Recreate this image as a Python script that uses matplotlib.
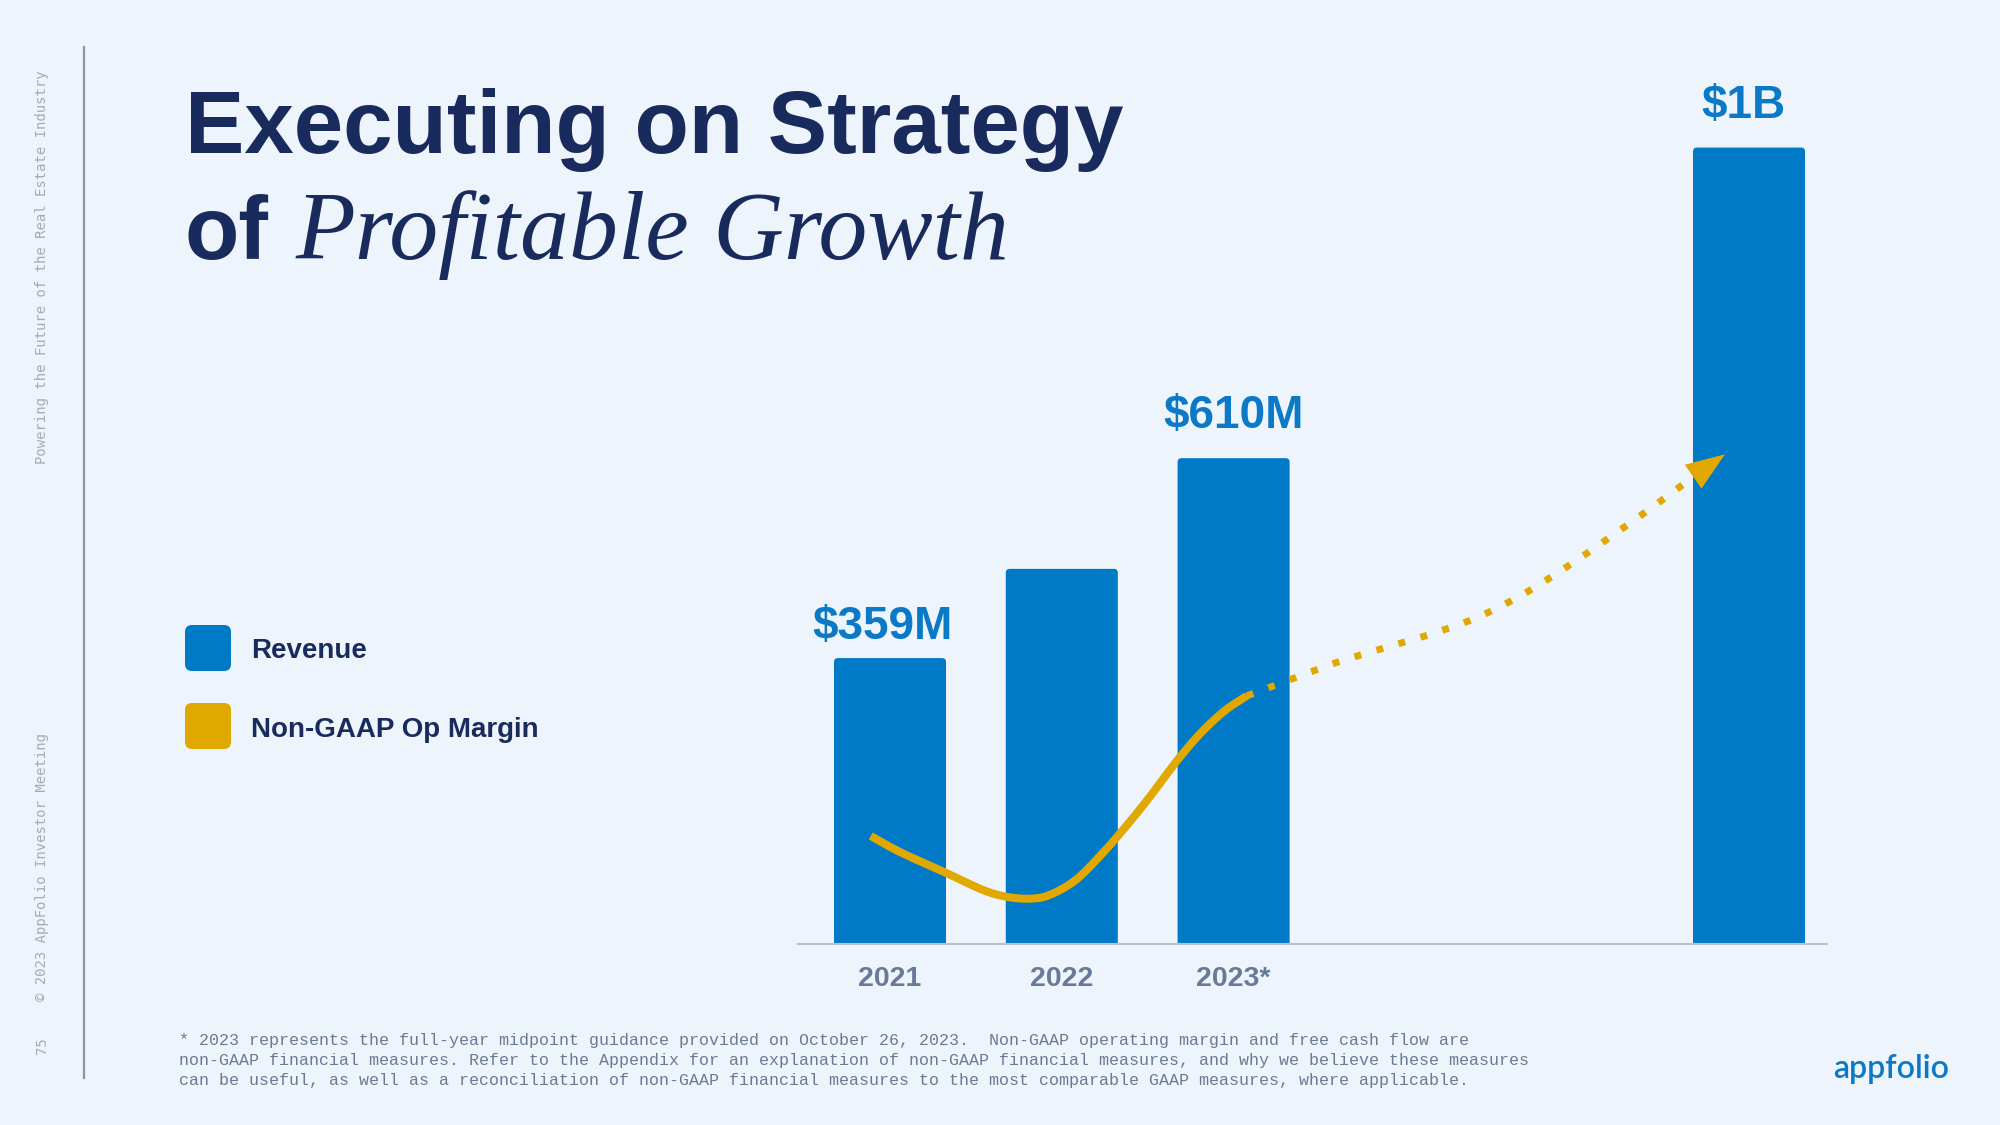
import matplotlib
matplotlib.use("Agg")
import numpy as np
import matplotlib.pyplot as plt
from matplotlib.patches import FancyBboxPatch

# ---------------- data ----------------
categories = ["2021", "2022", "2023*", ""]
positions = [0, 1, 2, 5]
revenue_musd = [359, 471, 610, 1000]
value_labels = ["$359M", "", "$610M", "$1B"]

# Non-GAAP op margin trend (schematic, relative scale 0-100), actual part
margin_x = [-0.112, 0.058, 0.329, 0.541, 0.677, 0.812, 0.928, 1.082,
            1.237, 1.372, 1.507, 1.674, 1.816, 1.952, 2.077]
margin_y = [12.8, 10.9, 8.4, 6.4, 5.6, 5.37, 5.8, 7.6,
            10.75, 13.9, 17.3, 21.8, 25.15, 27.7, 29.4]
# outlook part (dotted, ends in arrow)
outlook_x = [2.077, 2.323, 2.595, 2.871, 3.150, 3.420, 3.681,
             3.929, 4.168, 4.406, 4.638, 4.672, 4.860]
outlook_y = [29.4, 31.28, 33.33, 35.04, 36.73, 38.71, 41.39,
             44.55, 47.87, 51.3, 54.77, 55.33, 58.02]

legend_labels = ["Revenue", "Non-GAAP Op Margin"]
title_line1 = "Executing on Strategy"
title_of = "of"
title_italic = "Profitable Growth"
side_top = "Powering the Future of the Real Estate Industry"
side_bottom = "\u00a9 2023 AppFolio Investor Meeting"
page_no = "75"
footnote = [
    "* 2023 represents the full-year midpoint guidance provided on October 26, 2023.  Non-GAAP operating margin and free cash flow are",
    "non-GAAP financial measures. Refer to the Appendix for an explanation of non-GAAP financial measures, and why we believe these measures",
    "can be useful, as well as a reconciliation of non-GAAP financial measures to the most comparable GAAP measures, where applicable.",
]
logo = "appfolio"

# ---------------- style ----------------
BG = "#EEF4FB"
NAVY = "#182B5C"
BLUE = "#0079C6"
LABEL_BLUE = "#0B79C6"
GOLD = "#E0A800"
TICK = "#687A99"
GREY = "#A4ABB8"
FOOT = "#6B7A94"

W, H = 2000, 1125
fig = plt.figure(figsize=(20, 11.25), dpi=100, facecolor=BG)


def fx(px):
    return px / W


def fy(py_top):
    return 1 - py_top / H


def smooth_path(xs, ys, n=16):
    """Catmull-Rom rendering of a polyline through the given points."""
    p = np.column_stack([xs, ys]).astype(float)
    p = np.vstack([2 * p[0] - p[1], p, 2 * p[-1] - p[-2]])
    out = []
    t = np.linspace(0, 1, n, endpoint=False)[:, None]
    for i in range(1, len(p) - 2):
        p0, p1, p2, p3 = p[i - 1], p[i], p[i + 1], p[i + 2]
        seg = 0.5 * ((2 * p1) + (-p0 + p2) * t + (2 * p0 - 5 * p1 + 4 * p2 - p3) * t ** 2
                     + (-p0 + 3 * p1 - 3 * p2 + p3) * t ** 3)
        out.append(seg)
    out.append(p[-2][None, :])
    out = np.vstack(out)
    return out[:, 0], out[:, 1]


# chart axes (pixel-calibrated)
ax_left, ax_right, base_y, top_y = 798, 1827, 944, 100
XMIN, XMAX = -0.5355, 5.454
YMAX = 1059.7
ax = fig.add_axes([fx(ax_left), fy(base_y), fx(ax_right - ax_left), (base_y - top_y) / H])
ax.set_facecolor("none")
ax.set_xlim(XMIN, XMAX)
ax.set_ylim(0, YMAX)
for s in ["top", "right", "left"]:
    ax.spines[s].set_visible(False)
ax.spines["bottom"].set_color("#B9C2CE")
ax.spines["bottom"].set_linewidth(1.5)
ax.set_yticks([])
ax.set_xticks(positions[:3])
ax.set_xticklabels(categories[:3], fontsize=20.5, fontweight="bold",
                   family="Liberation Sans", color=TICK)
ax.tick_params(axis="x", length=0, pad=16)

bar_w = 0.652
bars = ax.bar(positions, revenue_musd, width=bar_w, color=BLUE, zorder=2)
# rounded top corners
xpx_per_unit = (ax_right - ax_left) / (XMAX - XMIN)
ypx_per_unit = (base_y - top_y) / YMAX
r_px = 4.0
rs = r_px / xpx_per_unit
ma = (r_px / ypx_per_unit) / rs
for rect in bars:
    rect.set_visible(False)
    x0, w, h = rect.get_x(), rect.get_width(), rect.get_height()
    p = FancyBboxPatch((x0, -20), w, h + 20,
                       boxstyle=f"round,pad=0,rounding_size={rs}",
                       mutation_aspect=ma, fc=BLUE, ec="none", zorder=2)
    ax.add_patch(p)

label_off_pt = [(-5, 14), (0, 0), (0, 22), (-4, 21)]
for pos, val, lab, off in zip(positions, revenue_musd, value_labels, label_off_pt):
    if lab:
        ax.annotate(lab, xy=(pos, val), xytext=off, textcoords="offset points",
                    ha="center", va="baseline", fontsize=33, fontweight="bold",
                    family="Liberation Sans", color=LABEL_BLUE)

# margin trend on a secondary scale
ax2 = ax.twinx()
ax2.set_ylim(0, 100)
ax2.set_axis_off()
sx, sy = smooth_path(margin_x, margin_y)
ax2.plot(sx, sy, color=GOLD, lw=5.8, solid_capstyle="butt",
         solid_joinstyle="round", zorder=3)
ox, oy = smooth_path(outlook_x[:-1], outlook_y[:-1])
ax2.plot(ox, oy, color=GOLD, lw=5.0,
         linestyle=(0, (1, 2.3)), dash_capstyle="butt", zorder=3)
ax2.annotate("", xy=(outlook_x[-1], outlook_y[-1]), xytext=(outlook_x[-2], outlook_y[-2]),
             arrowprops=dict(arrowstyle="-|>,head_length=28,head_width=10.5",
                             mutation_scale=1, color=GOLD, lw=0,
                             shrinkA=0, shrinkB=0))

# ---------------- title ----------------
fig.text(fx(185), fy(153), title_line1, fontsize=64, fontweight="bold",
         family="Liberation Sans", color=NAVY, va="baseline", ha="left")
fig.text(fx(185), fy(259), title_of, fontsize=64, fontweight="bold",
         family="Liberation Sans", color=NAVY, va="baseline", ha="left")
fig.text(fx(296), fy(259), title_italic, fontsize=70.5, style="italic",
         family="Liberation Serif", color=NAVY, va="baseline", ha="left")

# ---------------- legend ----------------
legend_colors = [BLUE, GOLD]
sq_tops = [625, 703]
text_base = [658, 737]
for lab, col, t, tb in zip(legend_labels, legend_colors, sq_tops, text_base):
    sz = 46 / 100.0
    x0 = 185 / 100.0
    y0 = (H - t) / 100.0 - sz
    fig.patches.append(FancyBboxPatch((x0, y0), sz, sz,
                                      boxstyle="round,pad=0,rounding_size=0.07",
                                      fc=col, ec="none",
                                      transform=fig.dpi_scale_trans, figure=fig))
    fig.text(fx(251), fy(tb), lab, fontsize=20, fontweight="bold",
             family="Liberation Sans", color=NAVY, va="baseline", ha="left")

# ---------------- side bar ----------------
fig.add_artist(plt.Line2D([fx(84), fx(84)], [fy(47), fy(1078)],
                          color="#8E949E", lw=1.6, transform=fig.transFigure))
fig.text(fx(42), fy(70), side_top, rotation=90, fontsize=10,
         family="DejaVu Sans Mono", color=GREY, ha="center", va="top")
fig.text(fx(42), fy(1001), side_bottom, rotation=90, fontsize=10,
         family="DejaVu Sans Mono", color=GREY, ha="center", va="bottom")
fig.text(fx(42), fy(1054), page_no, rotation=90, fontsize=10,
         family="DejaVu Sans Mono", color=GREY, ha="center", va="bottom")

# ---------------- footnote ----------------
for i, line in enumerate(footnote):
    fig.text(fx(179), fy(1040 + 20 * i), line, fontsize=12,
             family="Liberation Mono", color=FOOT, ha="left", va="center")

# ---------------- logo ----------------
fig.text(fx(1833), fy(1078), logo, fontsize=23, fontweight="semibold",
         family="Lato", color=LABEL_BLUE, ha="left", va="baseline")

fig.savefig("out.png", dpi=100, facecolor=BG)
